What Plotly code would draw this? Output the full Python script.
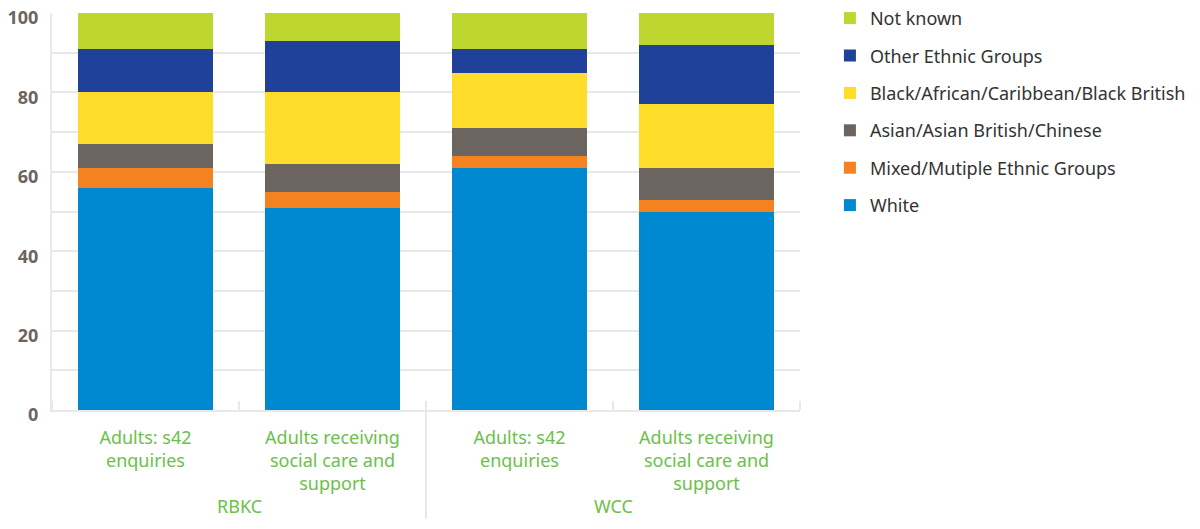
import plotly.graph_objects as go

groups = ["RBKC", "WCC"]
categories = ["Adults: s42<br>enquiries", "Adults receiving<br>social care and<br>support",
              "Adults: s42<br>enquiries", "Adults receiving<br>social care and<br>support"]
group_of_category = [0, 0, 1, 1]

white = [56, 51, 61, 50]
mixed = [5, 4, 3, 3]
asian = [6, 7, 7, 8]
black = [13, 18, 14, 16]
other = [11, 13, 6, 15]
not_known = [9, 7, 9, 8]

series = [
    ("White", white, "#0089D0"),
    ("Mixed/Mutiple Ethnic Groups", mixed, "#F58220"),
    ("Asian/Asian British/Chinese", asian, "#6C645F"),
    ("Black/African/Caribbean/Black British", black, "#FEDC2A"),
    ("Other Ethnic Groups", other, "#1F419A"),
    ("Not known", not_known, "#BED730"),
]

grid = "#e8e8e8"
green = "#6CC04A"
xpos = list(range(len(categories)))

fig = go.Figure()
n = len(series)
for i, (name, vals, col) in enumerate(series):
    fig.add_trace(go.Bar(
        x=xpos, y=vals, name=name,
        marker=dict(color=col, line=dict(width=0)),
        legendgroup=name, legendrank=n - i,
    ))

# group labels centred under their categories, divider between groups
annotations = []
shapes = []
for g, gname in enumerate(groups):
    members = [xpos[k] for k in range(len(xpos)) if group_of_category[k] == g]
    annotations.append(dict(
        x=sum(members) / len(members), xref="x", y=-0.242, yref="paper",
        text=gname, showarrow=False, yanchor="middle",
        font=dict(family="Noto Sans", size=18, color=green),
    ))
    if g > 0:
        xb = min(members) - 0.5
        shapes.append(dict(type="line", xref="x", yref="paper", x0=xb, x1=xb,
                           y0=-0.273, y1=0, line=dict(color=grid, width=2)))

fig.update_layout(
    barmode="stack",
    bargap=0.28,
    width=1200, height=529,
    margin=dict(l=52, r=400, t=13, b=119, autoexpand=False),
    plot_bgcolor="white", paper_bgcolor="white",
    font=dict(family="Noto Sans", size=18, color="#333333"),
    legend=dict(
        traceorder="grouped", tracegroupgap=11,
        x=1.04, xanchor="left", y=1.033, yanchor="top",
        font=dict(size=18, color="#333333"),
        itemwidth=30,
    ),
    showlegend=True,
    annotations=annotations,
    shapes=shapes,
)

fig.update_yaxes(
    range=[0, 100], dtick=20, tick0=0,
    showgrid=True, gridcolor=grid, gridwidth=2,
    minor=dict(dtick=10, showgrid=True, gridcolor=grid, gridwidth=2),
    showline=True, linecolor=grid, linewidth=2,
    zeroline=False,
    tickfont=dict(family="Noto Sans", size=18, color="#6B6461", weight="bold"),
    ticks="", ticklabelshift=5, ticklabelstandoff=8,
)
fig.update_xaxes(
    range=[-0.5, len(categories) - 0.5],
    tickmode="array", tickvals=xpos, ticktext=categories,
    ticks="", showgrid=False, zeroline=False,
    showline=True, linecolor=grid, linewidth=2,
    minor=dict(tick0=0.5, dtick=1, ticks="inside", ticklen=9, tickcolor=grid,
               tickwidth=2, showgrid=False),
    tickfont=dict(family="Noto Sans", size=18, color=green),
    ticklabelstandoff=10,
)

fig.write_html("out.html")
